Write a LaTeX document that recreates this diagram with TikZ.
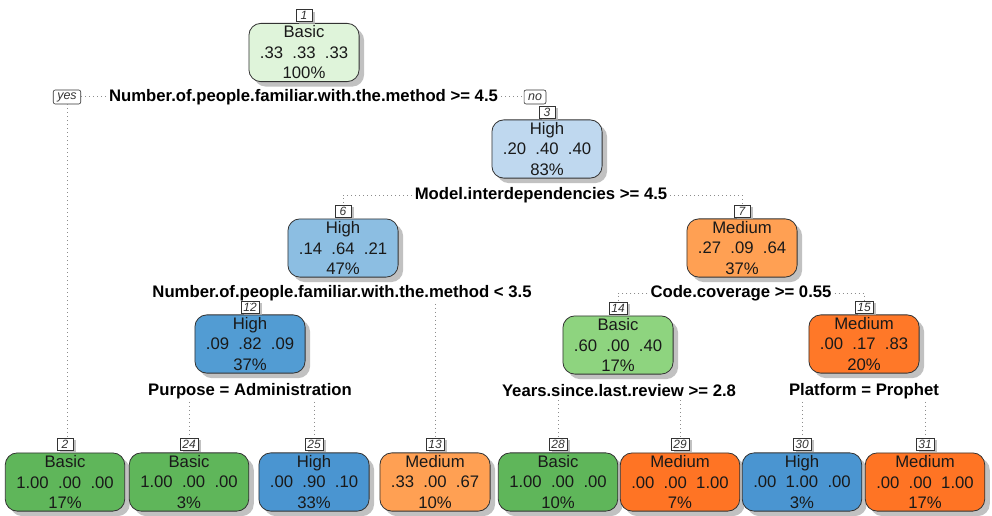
\documentclass[tikz,border=0pt]{standalone}
\usepackage{fontspec}
\setmainfont{Liberation Sans}
\usetikzlibrary{shadows}
\definecolor{cBasic0}{HTML}{DFF4DA}
\definecolor{cBasic1}{HTML}{8ED47F}
\definecolor{cBasic2}{HTML}{5FB65A}
\definecolor{cHigh0}{HTML}{BFD8EF}
\definecolor{cHigh1}{HTML}{8CBEE2}
\definecolor{cHigh2}{HTML}{529CD3}
\definecolor{cHigh3}{HTML}{4A95D1}
\definecolor{cMed1}{HTML}{FFA053}
\definecolor{cMed2}{HTML}{FF7828}
\definecolor{cMed3}{HTML}{FF7424}
\definecolor{edgegray}{HTML}{8C8C8C}
\newcommand{\tnfont}{\fontsize{16.7}{20.5}\selectfont}
\newcommand{\spfont}{\fontsize{16.7}{20.5}\selectfont\bfseries}
\newcommand{\nlfont}{\fontsize{12}{12}\selectfont\itshape}
\newcommand{\ynfont}{\fontsize{12.5}{13}\selectfont\itshape}
\tikzset{
  tn/.style={draw=black!80, line width=0.8pt, rounded corners=12pt, align=center,
    inner xsep=11pt, inner ysep=2.5pt, font=\tnfont, text=black!90,
    drop shadow={shadow xshift=5pt, shadow yshift=-5pt, fill=black!30, opacity=0.8}},
  nl/.style={draw=black!80, fill=white, line width=0.6pt, font=\nlfont, inner xsep=2.5pt,
    inner ysep=0.8pt, minimum width=16pt, minimum height=12pt, anchor=south, text=black!80,
    drop shadow={shadow xshift=3pt, shadow yshift=-2pt, fill=black!30, opacity=0.8}},
  yn/.style={draw=black!80, fill=white, line width=0.6pt, font=\ynfont, rounded corners=2pt,
    inner xsep=4pt, inner ysep=1pt, minimum height=14pt, text=black!80},
  sp/.style={font=\spfont, inner sep=3pt, text=black},
  con/.style={draw=edgegray, line width=1pt, dash pattern=on 1pt off 3pt}
}
\begin{document}
\begin{tikzpicture}[x=1pt,y=-1pt]
\fill[white] (0,0) rectangle (992,516);
\useasboundingbox (0,0) rectangle (992,516);
% inner nodes
\node[tn, fill=cBasic0] (n1) at (304,52.5) {Basic\\.33~~.33~~.33\\100\%};
\node[tn, fill=cHigh0] (n3) at (547,149) {High\\.20~~.40~~.40\\83\%};
\node[tn, fill=cHigh1] (n6) at (343,248) {High\\.14~~.64~~.21\\47\%};
\node[tn, fill=cMed1] (n7) at (742,248) {Medium\\.27~~.09~~.64\\37\%};
\node[tn, fill=cHigh2] (n12) at (250,344) {High\\.09~~.82~~.09\\37\%};
\node[tn, fill=cBasic1] (n14) at (618,345) {Basic\\.60~~.00~~.40\\17\%};
\node[tn, fill=cMed2] (n15) at (864,344) {Medium\\.00~~.17~~.83\\20\%};
% leaves
\node[tn, fill=cBasic2] (l2) at (65,482) {Basic\\1.00~~.00~~.00\\17\%};
\node[tn, fill=cBasic2] (l24) at (189,482) {Basic\\1.00~~.00~~.00\\3\%};
\node[tn, fill=cHigh3] (l25) at (314,482) {High\\.00~~.90~~.10\\33\%};
\node[tn, fill=cMed1] (l13) at (435,482) {Medium\\.33~~.00~~.67\\10\%};
\node[tn, fill=cBasic2] (l28) at (558,482) {Basic\\1.00~~.00~~.00\\10\%};
\node[tn, fill=cMed3] (l29) at (680,482) {Medium\\.00~~.00~~1.00\\7\%};
\node[tn, fill=cHigh3] (l30) at (802,482) {High\\.00~~1.00~~.00\\3\%};
\node[tn, fill=cMed3] (l31) at (925,482) {Medium\\.00~~.00~~1.00\\17\%};
% number labels
\node[nl] (n1n) at ([yshift=1pt]n1.north) {1};
\node[nl] (n3n) at ([yshift=1pt]n3.north) {3};
\node[nl] (n6n) at ([yshift=1pt]n6.north) {6};
\node[nl] (n7n) at ([yshift=1pt]n7.north) {7};
\node[nl] (n12n) at ([yshift=1pt]n12.north) {12};
\node[nl] (n14n) at ([yshift=1pt]n14.north) {14};
\node[nl] (n15n) at ([yshift=1pt]n15.north) {15};
\node[nl] (l2n) at ([yshift=2pt]l2.north) {2};
\node[nl] (l24n) at ([yshift=2pt]l24.north) {24};
\node[nl] (l25n) at ([yshift=2pt]l25.north) {25};
\node[nl] (l13n) at ([yshift=2pt]l13.north) {13};
\node[nl] (l28n) at ([yshift=2pt]l28.north) {28};
\node[nl] (l29n) at ([yshift=2pt]l29.north) {29};
\node[nl] (l30n) at ([yshift=2pt]l30.north) {30};
\node[nl] (l31n) at ([yshift=2pt]l31.north) {31};
% split labels
\node[sp] (s1) at (303.5,97) {Number.of.people.familiar.with.the.method >= 4.5};
\node[sp] (s3) at (541,195) {Model.interdependencies >= 4.5};
\node[sp] (s6) at (342,293) {Number.of.people.familiar.with.the.method < 3.5};
\node[sp] (s7) at (741,293) {Code.coverage >= 0.55};
\node[sp] (s12) at (250,391) {Purpose = Administration};
\node[sp] (s14) at (619,391) {Years.since.last.review >= 2.8};
\node[sp] (s15) at (864,391) {Platform = Prophet};
% yes / no
\node[yn] (yes) at (67,97) {yes};
\node[yn] (no) at (535,97) {no};
% connectors
\draw[con] (yes.east) -- (s1.west);
\draw[con] (s1.east) -- (no.west);
\draw[con] (yes.south) -- (yes.south |- l2n.north);
\draw[con] (s3.west) -| (n6n.north);
\draw[con] (s3.east) -| (n7n.north);
\draw[con] (s6.south -| n12n.north) -- (n12n.north);
\draw[con] (s6.south -| l13n.north) -- (l13n.north);
\draw[con] (s7.west) -| (n14n.north);
\draw[con] (s7.east) -| (n15n.north);
\draw[con] (s12.south -| l24n.north) -- (l24n.north);
\draw[con] (s12.south -| l25n.north) -- (l25n.north);
\draw[con] (s14.south -| l28n.north) -- (l28n.north);
\draw[con] (s14.south -| l29n.north) -- (l29n.north);
\draw[con] (s15.south -| l30n.north) -- (l30n.north);
\draw[con] (s15.south -| l31n.north) -- (l31n.north);
\end{tikzpicture}
\end{document}
